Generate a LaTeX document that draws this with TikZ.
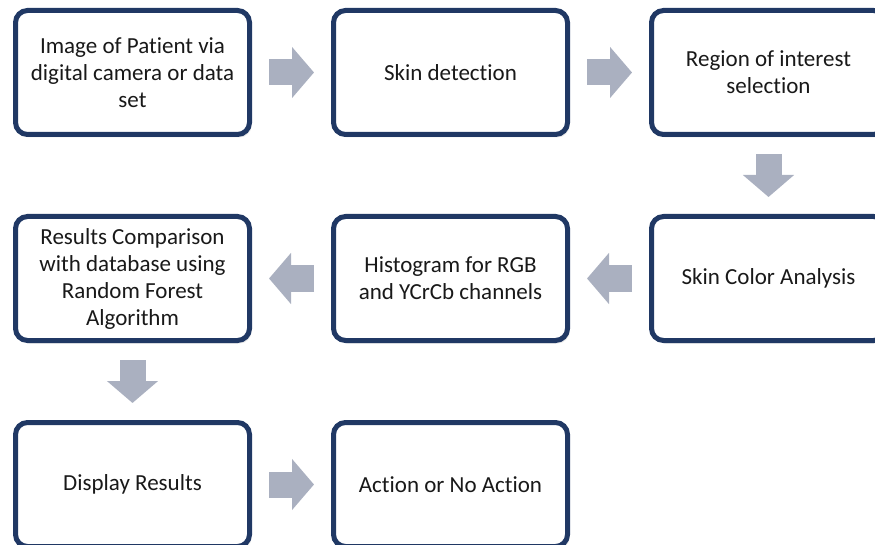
\documentclass[tikz,border=0pt]{standalone}
\usepackage{fontspec}
\setmainfont{Carlito}[Ligatures=NoCommon]
\usepackage{tikz}
\usetikzlibrary{arrows.meta,positioning,shadows}
\definecolor{boxnavy}{RGB}{32,56,100}
\definecolor{arrowgray}{RGB}{170,176,192}
\tikzset{
  procbox/.style={
    draw=boxnavy,
    line width=5pt,
    rounded corners=12pt,
    fill=white,
    align=center,
    minimum width=234pt,
    minimum height=124pt,
    font=\fontsize{23}{27}\selectfont,
    text=black!90,
    drop shadow={opacity=0.18, shadow xshift=2pt, shadow yshift=-3pt}
  },
  blockarrow/.style={
    draw=arrowgray,
    line width=26pt,
    -{Triangle[length=22pt,width=50pt]},
    arrowgray,
    shorten <=17pt,
    shorten >=17pt
  }
}

\begin{document}
\begin{tikzpicture}[node distance={77pt and 79pt}]
  \useasboundingbox (0,0) rectangle (875pt,-545pt);

  \node[procbox] (camera) at (132.5pt,-72.5pt) {Image of Patient via\\digital camera or data\\set};
  \node[procbox, right=of camera] (skin) {Skin detection};
  \node[procbox, right=of skin] (roi) {Region of interest\\selection};

  \node[procbox, below=of roi] (color) {Skin Color Analysis};
  \node[procbox, below=of skin] (hist) {Histogram for RGB\\and YCrCb channels};
  \node[procbox, below=of camera] (compare) {Results Comparison\\with database using\\Random Forest\\Algorithm};

  \node[procbox, below=of compare] (display) {Display Results};
  \node[procbox, right=of display] (action) {Action or No Action};

  \draw[blockarrow] (camera) -- (skin);
  \draw[blockarrow] (skin) -- (roi);
  \draw[blockarrow] (roi) -- (color);
  \draw[blockarrow] (color) -- (hist);
  \draw[blockarrow] (hist) -- (compare);
  \draw[blockarrow] (compare) -- (display);
  \draw[blockarrow] (display) -- (action);
\end{tikzpicture}
\end{document}
